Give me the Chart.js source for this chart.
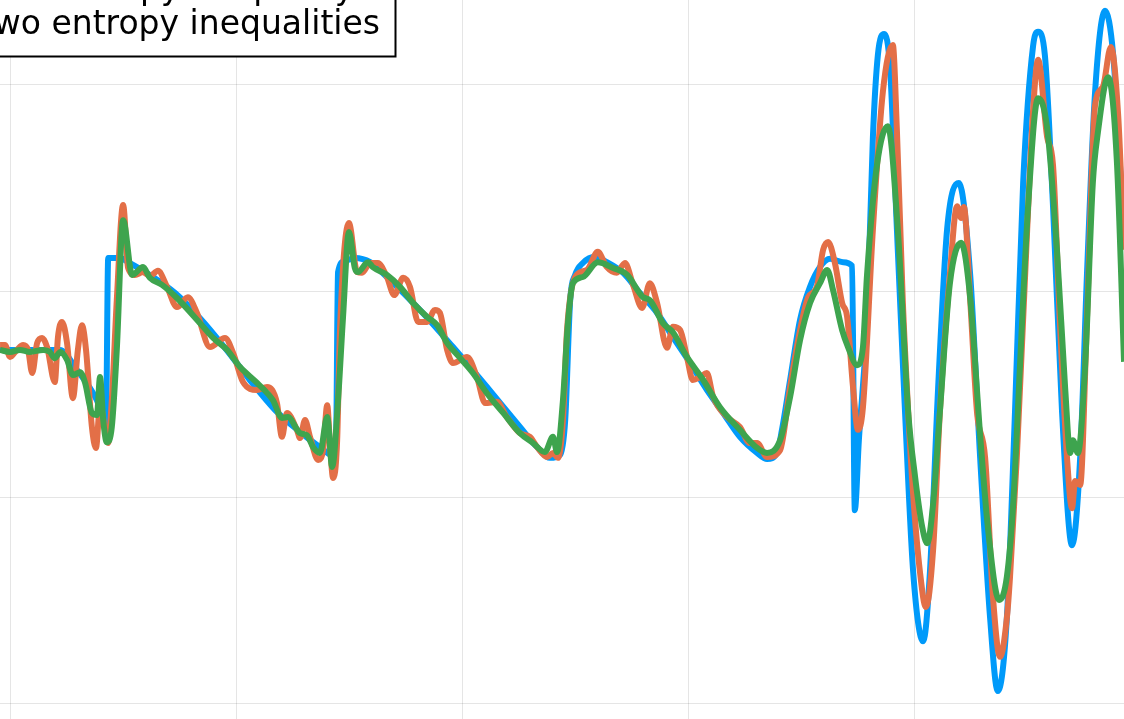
<!DOCTYPE html>
<html>
<head>
<meta charset="utf-8">
<script src="https://cdn.jsdelivr.net/npm/chart.js@4.4.1/dist/chart.umd.min.js"></script>
<style>
  html, body { margin: 0; padding: 0; background: #fff; overflow: hidden; }
  canvas { display: block; }
</style>
</head>
<body>
<canvas id="shuOsher" width="1124" height="719"></canvas>
<script>
// density profiles (x, rho)
const xRef = [-1.522, -1.390, -1.352, -1.308, -1.288, -1.283, -1.257, -1.239, -1.191, -1.135, -1.080, -1.025, -0.970, -0.914, -0.859, -0.815, -0.780,
  -0.775, -0.760, -0.738, -0.704, -0.667, -0.594, -0.521, -0.446, -0.373, -0.335, -0.307, -0.2845, -0.273, -0.262, -0.251, -0.234, -0.207, -0.181,
  -0.145, -0.108, -0.070, -0.035, 0.003, 0.040, 0.076, 0.113, 0.151, 0.173, 0.195, 0.206, 0.224, 0.246, 0.268, 0.290, 0.312, 0.341, 0.361,
  0.367, 0.376, 0.394, 0.407, 0.418, 0.432, 0.445, 0.460, 0.478, 0.496, 0.518, 0.533, 0.551, 0.571, 0.597, 0.622, 0.644, 0.666, 0.683,
  0.703, 0.721, 0.739, 0.761, 0.772, 0.787, 0.805, 0.825, 0.847, 0.865, 0.880, 0.898, 0.920, 0.938, 0.962];
const rhoRef = [3.857, 3.857, 3.808, 3.735, 3.675, 4.080, 4.080, 4.070, 4.039, 3.995, 3.934, 3.862, 3.784, 3.711, 3.658, 3.621, 3.597,
  4.046, 4.073, 4.080, 4.070, 4.034, 3.954, 3.864, 3.767, 3.670, 3.621, 3.595, 3.602, 3.687, 3.978, 4.039, 4.068, 4.083, 4.070,
  4.044, 3.995, 3.947, 3.888, 3.825, 3.760, 3.704, 3.646, 3.607, 3.592, 3.607, 3.663, 3.784, 3.930, 4.010, 4.058, 4.078, 4.070, 4.061,
  3.468, 3.638, 3.930, 4.374, 4.573, 4.624, 4.539, 4.150, 3.706, 3.318, 3.150, 3.318, 3.762, 4.150, 4.262, 4.039, 3.595, 3.206, 3.029,
  3.206, 3.706, 4.262, 4.595, 4.629, 4.573, 4.206, 3.706, 3.383, 3.595, 4.039, 4.483, 4.680, 4.573, 4.124];

const xOne = [-1.522, -1.511, -1.500, -1.485, -1.471, -1.460, -1.451, -1.440, -1.429, -1.418, -1.401, -1.394, -1.385, -1.374, -1.361, -1.350,
  -1.341, -1.332, -1.319, -1.310, -1.301, -1.283, -1.275, -1.264, -1.250, -1.239, -1.224, -1.206, -1.191, -1.173, -1.153, -1.131, -1.107,
  -1.087, -1.058, -1.025, -1.007, -0.985, -0.954, -0.932, -0.910, -0.899, -0.888, -0.866, -0.859, -0.848, -0.837, -0.819, -0.808, -0.799,
  -0.793, -0.786, -0.777, -0.771, -0.751, -0.733, -0.722, -0.704, -0.687, -0.667, -0.651, -0.631, -0.616, -0.598, -0.578, -0.561, -0.550,
  -0.534, -0.521, -0.490, -0.468, -0.450, -0.424, -0.402, -0.373, -0.351, -0.335, -0.313, -0.300, -0.289, -0.278, -0.269, -0.251, -0.225,
  -0.201, -0.181, -0.159, -0.141, -0.123, -0.103, -0.086, -0.070, -0.048, -0.035, -0.019, -0.004, 0.009, 0.025, 0.040, 0.054, 0.085, 0.113,
  0.135, 0.151, 0.173, 0.202, 0.224, 0.246, 0.264, 0.283, 0.297, 0.308, 0.323, 0.339, 0.350, 0.363, 0.374, 0.385, 0.407, 0.429, 0.451,
  0.460, 0.473, 0.485, 0.496, 0.511, 0.524, 0.540, 0.555, 0.577, 0.593, 0.602, 0.608, 0.622, 0.637, 0.655, 0.672, 0.688, 0.703, 0.710,
  0.725, 0.748, 0.761, 0.772, 0.792, 0.805, 0.820, 0.836, 0.847, 0.854, 0.865, 0.880, 0.898, 0.915, 0.933, 0.949, 0.962];
const rhoOne = [3.869, 3.869, 3.840, 3.857, 3.869, 3.857, 3.801, 3.874, 3.886, 3.864, 3.779, 3.888, 3.925, 3.874, 3.740, 3.857,
  3.917, 3.857, 3.670, 3.619, 3.723, 3.631, 3.735, 3.978, 4.209, 4.056, 4.039, 4.046, 4.036, 4.049, 4.010, 3.961, 3.985,
  3.947, 3.864, 3.886, 3.850, 3.779, 3.760, 3.767, 3.728, 3.646, 3.704, 3.663, 3.643, 3.687, 3.646, 3.590, 3.614, 3.723,
  3.631, 3.546, 3.638, 3.898, 4.165, 4.046, 4.044, 4.068, 4.068, 4.034, 3.990, 4.032, 4.010, 3.925, 3.925, 3.954, 3.947,
  3.857, 3.825, 3.840, 3.791, 3.728, 3.731, 3.694, 3.655, 3.646, 3.621, 3.597, 3.607, 3.595, 3.687, 3.905, 4.034, 4.051,
  4.095, 4.058, 4.044, 4.068, 4.015, 3.959, 4.019, 3.971, 3.862, 3.913, 3.905, 3.840, 3.784, 3.791, 3.801, 3.743, 3.694, 3.670,
  3.631, 3.631, 3.597, 3.614, 3.767, 3.905, 3.985, 4.010, 4.100, 4.119, 4.068, 3.971, 3.937, 3.767, 3.663, 3.718, 4.150, 4.483, 4.597,
  4.391, 3.978, 3.706, 3.505, 3.318, 3.233, 3.371, 3.706, 4.039, 4.206, 4.177, 4.204, 3.978, 3.706, 3.595, 3.262, 3.112, 3.206, 3.306,
  3.595, 4.150, 4.439, 4.561, 4.374, 4.306, 3.930, 3.595, 3.473, 3.539, 3.529, 3.930, 4.451, 4.495, 4.592, 4.427, 4.100];

const xTwo = [-1.522, -1.500, -1.478, -1.456, -1.427, -1.412, -1.401, -1.389, -1.374, -1.361, -1.345, -1.334, -1.319, -1.308, -1.301, -1.294,
  -1.286, -1.275, -1.264, -1.250, -1.230, -1.206, -1.191, -1.164, -1.131, -1.080, -1.051, -1.020, -0.992, -0.954, -0.919, -0.899, -0.886,
  -0.859, -0.844, -0.830, -0.815, -0.799, -0.788, -0.775, -0.764, -0.751, -0.738, -0.731, -0.709, -0.698, -0.667, -0.638, -0.609, -0.578,
  -0.556, -0.534, -0.505, -0.477, -0.446, -0.410, -0.373, -0.344, -0.318, -0.300, -0.291, -0.278, -0.267, -0.256, -0.234, -0.201, -0.167,
  -0.136, -0.101, -0.086, -0.057, -0.035, -0.004, 0.032, 0.069, 0.113, 0.151, 0.173, 0.202, 0.224, 0.246, 0.268, 0.290, 0.306, 0.319,
  0.339, 0.352, 0.372, 0.385, 0.394, 0.416, 0.440, 0.462, 0.485, 0.500, 0.516, 0.527, 0.540, 0.555, 0.577, 0.602, 0.622, 0.644, 0.661,
  0.686, 0.703, 0.717, 0.732, 0.750, 0.772, 0.792, 0.814, 0.832, 0.843, 0.849, 0.860, 0.876, 0.893, 0.904, 0.927, 0.946, 0.962];
const rhoTwo = [3.857, 3.852, 3.857, 3.852, 3.857, 3.852, 3.837, 3.852, 3.833, 3.796, 3.803, 3.777, 3.704, 3.699, 3.791, 3.687,
  3.633, 3.670, 3.857, 4.172, 4.039, 4.058, 4.032, 4.015, 3.983, 3.922, 3.886, 3.857, 3.816, 3.777, 3.735, 3.692, 3.694,
  3.655, 3.650, 3.621, 3.607, 3.694, 3.573, 3.735, 3.937, 4.143, 4.056, 4.046, 4.070, 4.058, 4.039, 4.010, 3.971, 3.937,
  3.917, 3.874, 3.837, 3.801, 3.752, 3.704, 3.655, 3.631, 3.609, 3.646, 3.609, 3.735, 3.922, 4.019, 4.034, 4.070, 4.056,
  4.039, 3.985, 3.978, 3.922, 3.900, 3.840, 3.784, 3.718, 3.663, 3.619, 3.607, 3.638, 3.743, 3.881, 3.971, 4.019, 4.051, 4.002,
  3.905, 3.864, 3.820, 3.864, 4.039, 4.306, 4.400, 4.150, 3.706, 3.551, 3.427, 3.388, 3.483, 3.706, 4.017, 4.117, 3.983, 3.650, 3.427,
  3.250, 3.306, 3.483, 3.818, 4.206, 4.468, 4.396, 4.095, 3.762, 3.607, 3.638, 3.607, 3.818, 4.262, 4.383, 4.519, 4.318, 3.828];

const seriesNames = ['reference', 'one entropy inequality', 'two entropy inequalities'];
const seriesColors = ['#009AFA', '#E36F47', '#3EA44E'];
const xTicks = [-1.5, -1.0, -0.5, 0.0, 0.5];
const yTicks = [3.0, 3.5, 4.0, 4.5];

function toPoints(xs, ys) {
    return xs.map((x, i) => ({ x: x, y: ys[i] }));
}

// legend box sits in the top left corner, partly outside the view
const legendBox = {
    id: 'legendBox',
    afterDraw(chart) {
        const ctx = chart.ctx;
        ctx.save();
        ctx.fillStyle = '#fff';
        ctx.fillRect(-200, -200, 596, 257);
        ctx.strokeStyle = '#000';
        ctx.lineWidth = 2;
        ctx.strokeRect(-200, -200, 595.5, 256.5);
        ctx.font = '33px "DejaVu Sans"';
        ctx.fillStyle = '#000';
        ctx.textBaseline = 'alphabetic';
        const left = 380 - ctx.measureText(seriesNames[2]).width;
        ctx.fillText(seriesNames[1], left, -1);
        ctx.fillText(seriesNames[2], left, 34);
        ctx.restore();
    }
};

function line(i, xs, ys) {
    return {
        label: seriesNames[i],
        data: toPoints(xs, ys),
        borderColor: seriesColors[i],
        borderWidth: 6,
        pointRadius: 0,
        fill: false,
        cubicInterpolationMode: 'monotone',
        order: 3 - i
    };
}

new Chart(document.getElementById('shuOsher'), {
    type: 'line',
    data: {
        datasets: [line(0, xRef, rhoRef), line(1, xOne, rhoOne), line(2, xTwo, rhoTwo)]
    },
    options: {
        responsive: false,
        animation: false,
        devicePixelRatio: 1,
        layout: { padding: 0 },
        plugins: { legend: { display: false }, tooltip: { enabled: false } },
        scales: {
            x: {
                type: 'linear',
                min: -1.5221,
                max: 0.9619,
                afterBuildTicks: s => { s.ticks = xTicks.map(v => ({ value: v })); },
                afterFit: s => { s.height = 0; },
                ticks: { display: false },
                border: { display: false },
                grid: { color: 'rgba(0,0,0,0.1)', lineWidth: 1, drawTicks: false, tickLength: 0 }
            },
            y: {
                type: 'linear',
                min: 2.9612,
                max: 4.7063,
                afterBuildTicks: s => { s.ticks = yTicks.map(v => ({ value: v })); },
                afterFit: s => { s.width = 0; },
                ticks: { display: false },
                border: { display: false },
                grid: { color: 'rgba(0,0,0,0.1)', lineWidth: 1, drawTicks: false, tickLength: 0 }
            }
        }
    },
    plugins: [legendBox]
});
</script>
</body>
</html>
